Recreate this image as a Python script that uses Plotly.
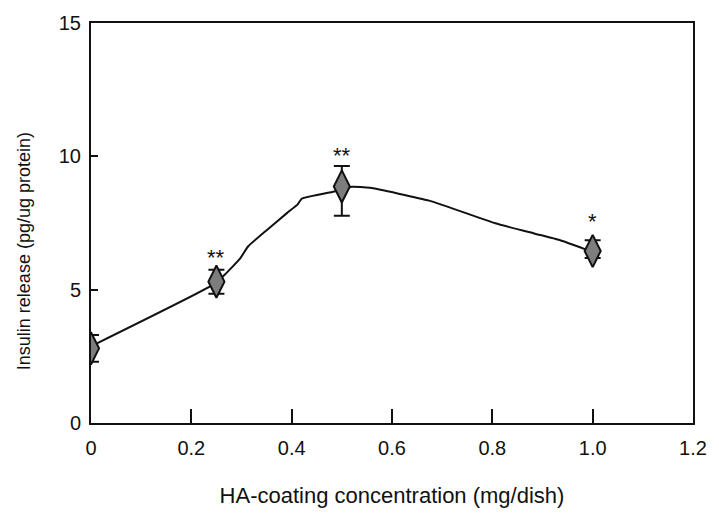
import plotly.graph_objects as go

# Measured points
conc = [0.0, 0.25, 0.5, 1.0]
insulin = [2.8, 5.3, 8.87, 6.45]
err_plus = [0.5, 0.45, 0.77, 0.4]
err_minus = [0.5, 0.45, 1.1, 0.26]
sig_labels = ["", "**", "**", "*"]
sig_y = [None, 6.2, 10.05, 7.55]

# Fitted curve
curve_x = [0.008, 0.24, 0.267, 0.297, 0.313, 0.352, 0.391, 0.412, 0.42, 0.49, 0.52, 0.556, 0.674, 0.806, 0.885, 0.934, 0.987]
curve_y = [2.95, 5.15, 5.57, 6.16, 6.62, 7.26, 7.88, 8.2, 8.41, 8.7, 8.86, 8.82, 8.34, 7.49, 7.1, 6.86, 6.5]

x_ticks = [0, 0.2, 0.4, 0.6, 0.8, 1.0, 1.2]
x_tick_text = ["0", "0.2", "0.4", "0.6", "0.8", "1.0", "1.2"]
y_ticks = [0, 5, 10, 15]

FONT = "Liberation Sans, Arial, sans-serif"

fig = go.Figure()
fig.add_trace(go.Scatter(
    x=curve_x, y=curve_y, mode="lines",
    line=dict(color="#111", width=2, shape="spline", smoothing=0.4),
    showlegend=False, hoverinfo="skip"))
fig.add_trace(go.Scatter(
    x=conc, y=insulin, mode="markers",
    marker=dict(symbol="diamond-tall", size=23, color="#7d7d7d",
                line=dict(color="#111", width=2)),
    error_y=dict(type="data", symmetric=False, array=err_plus, arrayminus=err_minus,
                 color="#111", thickness=2, width=8),
    showlegend=False))

for xv, lab, yv in zip(conc, sig_labels, sig_y):
    if lab:
        fig.add_annotation(x=xv, y=yv, text=lab, showarrow=False,
                           font=dict(family=FONT, size=22, color="#111"))

# y-axis title (placed slightly below centre as in the original)
fig.add_annotation(xref="paper", yref="paper", x=-0.111, y=0.43,
                   text="Insulin release (pg/ug protein)", textangle=-90,
                   showarrow=False, xanchor="center", yanchor="middle",
                   font=dict(family=FONT, size=18, color="#111"))

fig.update_layout(
    width=719, height=517,
    margin=dict(l=91, r=17, t=16, b=94),
    paper_bgcolor="white", plot_bgcolor="white",
    font=dict(family=FONT, size=20, color="#111"),
    xaxis=dict(range=[0, 1.2], tickvals=x_ticks, ticktext=x_tick_text,
               ticks="inside", ticklen=14, tickwidth=1.5, tickcolor="#111",
               showline=True, linecolor="#111", linewidth=2, mirror=True,
               showgrid=False, zeroline=False,
               tickfont=dict(size=20), ticklabelstandoff=6,
               title=dict(text="HA-coating concentration (mg/dish)",
                          font=dict(size=22), standoff=30)),
    yaxis=dict(range=[0, 15], tickvals=y_ticks,
               ticks="inside", ticklen=7, tickwidth=1.5, tickcolor="#111",
               showline=True, linecolor="#111", linewidth=2, mirror=True,
               showgrid=False, zeroline=False,
               tickfont=dict(size=20), ticklabelstandoff=4),
)

fig.write_html("out.html")
